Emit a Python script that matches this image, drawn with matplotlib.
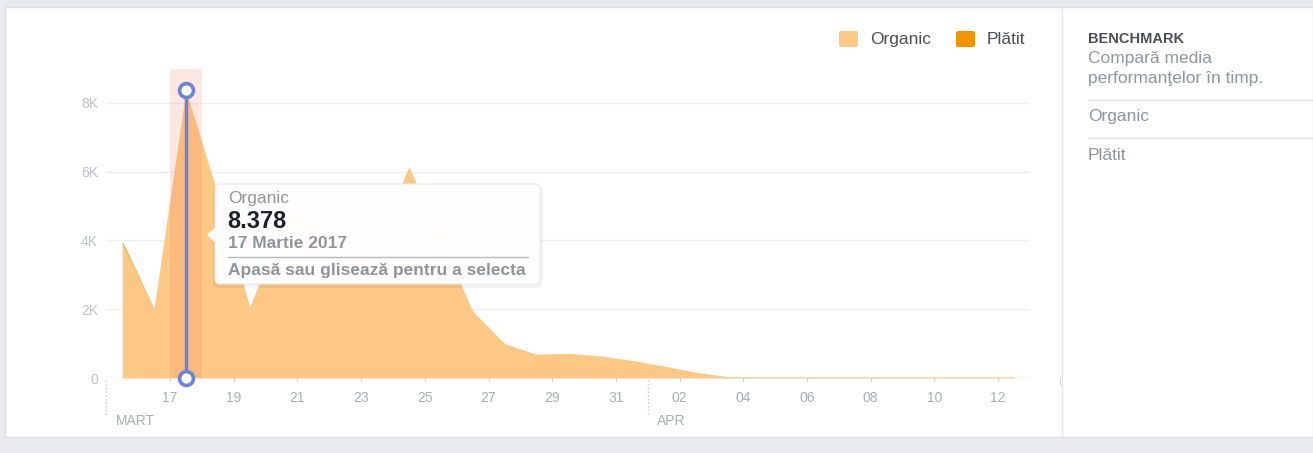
import numpy as np
import pandas as pd
import matplotlib
matplotlib.use("Agg")
import matplotlib.pyplot as plt
from matplotlib.patches import Rectangle, FancyBboxPatch, Polygon
from matplotlib.transforms import Affine2D, blended_transform_factory

plt.rcParams["font.family"] = ["Liberation Sans", "DejaVu Sans"]

# ---- data (daily reach, 15 Mar - 12 Apr 2017) ----
dates = pd.date_range("2017-03-15", "2017-04-12", freq="D")
organic = [3900, 2030, 8378, 5350, 2080, 4300, 5000, 3400, 3900, 6150,
           4050, 1950, 1000, 690, 720, 640, 510, 350, 170, 40,
           35, 35, 35, 35, 35, 35, 35, 35, 35]
paid = [70, 0, 0, 0, 0, 0, 0, 0, 0, 0,
        0, 0, 0, 0, 0, 0, 0, 0, 0, 0,
        0, 0, 0, 0, 0, 0, 0, 0, 0]
y_ticks = [0, 2000, 4000, 6000, 8000]
y_labels = ["0", "2K", "4K", "6K", "8K"]
selected = 2          # 17 Martie 2017
series_names = ["Organic", "Plătit"]

ORG = "#fdc784"
PAID = "#f29400"
GREY = "#90949c"
W, H = 1313, 453

fig = plt.figure(figsize=(W / 100, H / 100), dpi=100, facecolor="#e9ebee")
# pixel coords (origin top-left) -> figure
px = Affine2D().scale(1 / W, -1 / H).translate(0, 1) + fig.transFigure

# white card + divider
fig.add_artist(Rectangle((5, 7), W - 5, 430, transform=px, facecolor="white",
                         edgecolor="#dddfe2", lw=1, zorder=-5))
fig.add_artist(plt.Line2D([1062, 1062], [8, 436], transform=px,
                          color="#e5e6e9", lw=1, zorder=-4))

start = dates[0]
x = (dates - start).days.to_numpy() + 0.5
org = np.array(organic, dtype=float)
tot = org + np.array(paid, dtype=float)

ax = fig.add_axes([106.3 / W, (H - 378) / H, (1030 - 106.3) / W, (378 - 68.6) / H])
ax.set_facecolor("none")
ax.fill_between(x, 0, org, color=ORG, lw=0, zorder=2)
ax.fill_between(x, org, tot, color=PAID, lw=0, zorder=2)
ax.set_xlim(0, len(dates))
ax.set_ylim(0, 9000)

# hover highlight
ax.axvspan(selected, selected + 1, color="#f08a6a", alpha=0.2, lw=0, zorder=3)
ax.plot([x[selected], x[selected]], [0, org[selected]], color="#6b84d8", lw=2.5,
        zorder=4, solid_capstyle="butt")
ax.plot([x[selected], x[selected]], [0, org[selected]], ls="none", marker="o",
        ms=10, mfc="white", mec="#6b84d8", mew=2.6, zorder=5, clip_on=False)

# axes styling
for s in ax.spines.values():
    s.set_visible(False)
ax.set_yticks(y_ticks)
ax.set_yticklabels(y_labels)
ax.yaxis.grid(True, color="#eeeff1", lw=1)
ax.set_axisbelow(True)
ax.tick_params(axis="y", length=0, pad=6, labelsize=10, labelcolor="#bcc0c7")
ax.axhline(0, color="#e3e4e6", lw=1, zorder=1)

tick_idx = [i for i in range(len(dates)) if (dates[i] - start).days % 2 == 0 and i >= 2]
ax.set_xticks([(dates[i] - start).days for i in tick_idx])
ax.set_xticklabels([dates[i].strftime("%d") for i in tick_idx])
ax.tick_params(axis="x", length=3, width=1, color="#d6d7da", pad=6.5,
               labelsize=10, labelcolor="#a9adb3")

# month separators + labels
bt = blended_transform_factory(ax.transData, ax.transAxes)
months = {"MART": 0, "APR": (pd.Timestamp("2017-04-01") - start).days}
for name, d in months.items():
    ax.plot([d, d], [-0.005, -0.12], transform=bt, color="#c8cacd", ls=":",
            lw=1, clip_on=False)
    ax.text(d + 0.3, -0.138, name, transform=bt, ha="left", va="center",
            fontsize=10, color="#a9adb3")
fig.text(1060, 381, "(", transform=px, fontsize=7, color="#c8cacd",
         ha="center", va="center")

# legend
for sx, tx, col, nm in [(839, 870, ORG, series_names[0]), (956, 987, PAID, series_names[1])]:
    fig.add_artist(FancyBboxPatch((sx, 31), 19, 16, transform=px,
                                  boxstyle="round,pad=0,rounding_size=2",
                                  facecolor=col, edgecolor="none"))
    fig.text(tx, 39.5, nm, transform=px, fontsize=12.5, color="#4b4f56",
             ha="left", va="center")

# tooltip
fig.add_artist(FancyBboxPatch((213, 186), 330, 102, transform=px,
                              boxstyle="round,pad=0,rounding_size=6",
                              facecolor="#000000", alpha=0.05, edgecolor="none", zorder=6))
fig.add_artist(FancyBboxPatch((215, 184), 325, 100, transform=px,
                              boxstyle="round,pad=0,rounding_size=5",
                              facecolor="white", alpha=0.975, edgecolor="#e8e8e8",
                              lw=0.8, zorder=7))
fig.add_artist(Polygon([(215.5, 227), (207, 235), (215.5, 243)], closed=True,
                       transform=px, facecolor="white", edgecolor="none", zorder=7))
fig.text(228, 199, series_names[0], transform=px, fontsize=12.5, color=GREY,
         va="center", zorder=8)
fig.text(227, 221, f"{organic[selected]:,}".replace(",", "."), transform=px,
         fontsize=17, fontweight="bold", color="#1d2129", va="center", zorder=8)
fig.text(228, 243, f"{dates[selected].day} Martie {dates[selected].year}", transform=px,
         fontsize=12.5, fontweight="bold", color=GREY, va="center", zorder=8)
fig.add_artist(plt.Line2D([228, 528], [257, 257], transform=px, color="#b5b8bd",
                          lw=1, zorder=8))
fig.text(228, 271, "Apasă sau glisează pentru a selecta", transform=px, fontsize=12.5,
         fontweight="bold", color=GREY, va="center", zorder=8)

# benchmark panel
fig.text(1088, 39, "BENCHMARK", transform=px, fontsize=10.5, fontweight="bold",
         color="#4b4f56", va="center")
fig.text(1088, 58, "Compară media", transform=px, fontsize=12.5, color=GREY,
         va="center")
fig.text(1088, 79, "performanţelor în timp.", transform=px, fontsize=12.5,
         color=GREY, va="center")
for yy in (100, 138):
    fig.add_artist(plt.Line2D([1088, W], [yy, yy], transform=px, color="#dddfe2", lw=1))
fig.text(1088, 117, series_names[0], transform=px, fontsize=12.5, color=GREY,
         va="center")
fig.text(1088, 155, series_names[1], transform=px, fontsize=12.5, color=GREY,
         va="center")

fig.savefig("out.png", dpi=100, facecolor=fig.get_facecolor())
